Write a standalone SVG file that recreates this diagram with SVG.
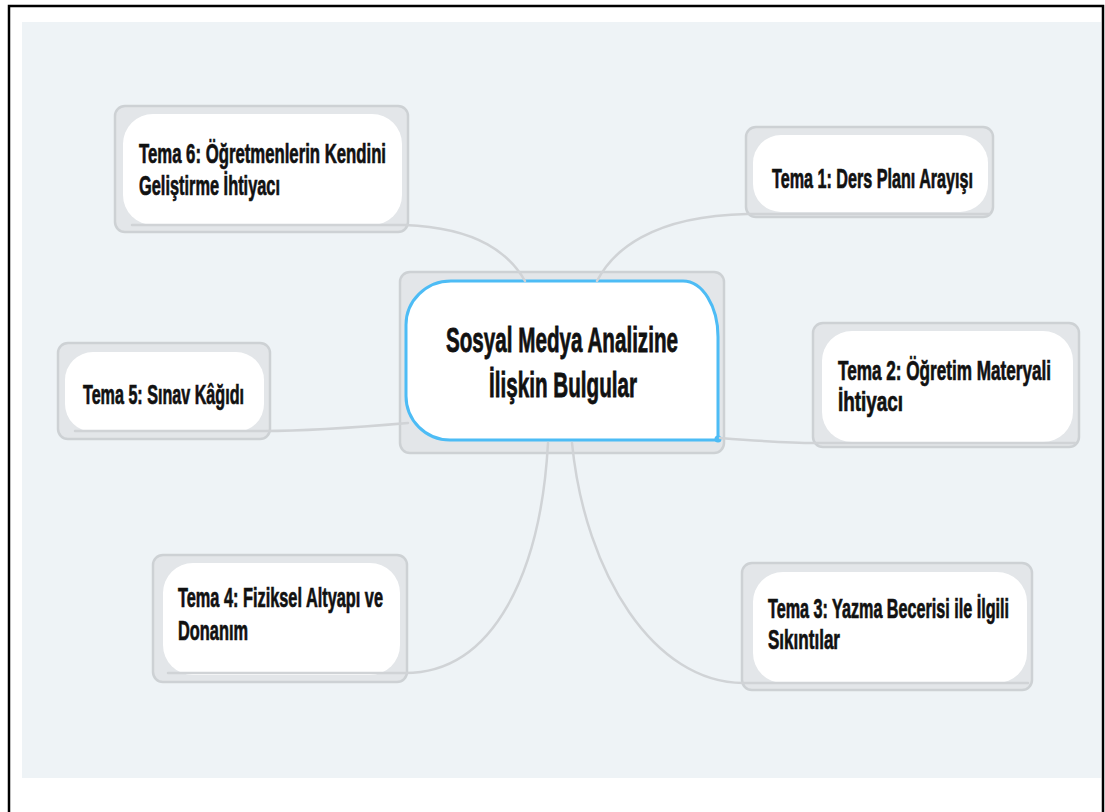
<svg xmlns="http://www.w3.org/2000/svg" width="1105" height="812" viewBox="0 0 1105 812">
<style>
.outer{fill:#e3e6e9;stroke:#cdd1d4;stroke-width:2.5}
.inner{fill:#ffffff}
.conn{fill:none;stroke:#d0d3d6;stroke-width:2.5;stroke-linecap:round}
.t{font-family:"Liberation Sans",Arial,sans-serif;font-weight:bold;font-size:27px;fill:#111111;stroke:#111111;stroke-width:0.7}
.c{font-family:"Liberation Sans",Arial,sans-serif;font-weight:bold;font-size:35px;fill:#111111;stroke:#111111;stroke-width:0.8}
</style>
<rect x="0" y="0" width="1105" height="812" fill="#ffffff"/>
<rect x="22" y="22" width="1079" height="756" fill="#eef3f6"/>
<rect x="9" y="6" width="1094" height="820" fill="none" stroke="#000000" stroke-width="2.5"/>

<g id="node-center">
<rect class="outer" x="400" y="272" width="324" height="181" rx="10"/>
<path d="M 451 281 L 683 281 A 35 56 0 0 1 718 337 L 718 440 L 450 440 A 44 44 0 0 1 406 396 L 406 325 A 45 44 0 0 1 451 281 Z" fill="#ffffff" stroke="#4dbcf5" stroke-width="3"/>
<circle cx="718" cy="439" r="3.5" fill="#4dbcf5"/>
<text class="c" transform="translate(446 352) scale(0.55 1)" textLength="421.8" lengthAdjust="spacingAndGlyphs">Sosyal Medya Analizine</text>
<text class="c" transform="translate(489 397) scale(0.55 1)" textLength="269.1" lengthAdjust="spacingAndGlyphs">İlişkin Bulgular</text>
</g>

<g id="node-tema6">
<rect class="outer" x="115" y="106" width="293" height="126" rx="10"/>
<rect class="inner" x="123" y="114" width="279" height="111" rx="30"/>
<text class="t" transform="translate(139 163) scale(0.6 1)" textLength="411.7" lengthAdjust="spacingAndGlyphs">Tema 6: Öğretmenlerin Kendini</text>
<text class="t" transform="translate(139 195) scale(0.6 1)" textLength="235" lengthAdjust="spacingAndGlyphs">Geliştirme İhtiyacı</text>
</g>

<g id="node-tema1">
<rect class="outer" x="746" y="127" width="247" height="90" rx="10"/>
<rect class="inner" x="753" y="135" width="235" height="77" rx="28"/>
<text class="t" transform="translate(772 188) scale(0.6 1)" textLength="335" lengthAdjust="spacingAndGlyphs">Tema 1: Ders Planı Arayışı</text>
</g>

<g id="node-tema2">
<rect class="outer" x="813" y="323" width="266" height="124" rx="10"/>
<rect class="inner" x="822" y="331" width="251" height="111" rx="30"/>
<text class="t" transform="translate(838 380) scale(0.6 1)" textLength="355" lengthAdjust="spacingAndGlyphs">Tema 2: Öğretim Materyali</text>
<text class="t" transform="translate(838 411) scale(0.6 1)" textLength="108.3" lengthAdjust="spacingAndGlyphs">İhtiyacı</text>
</g>

<g id="node-tema5">
<rect class="outer" x="58" y="343" width="212" height="96" rx="10"/>
<rect class="inner" x="65" y="352" width="199" height="80" rx="28"/>
<text class="t" transform="translate(83 404) scale(0.6 1)" textLength="268.3" lengthAdjust="spacingAndGlyphs">Tema 5: Sınav Kâğıdı</text>
</g>

<g id="node-tema4">
<rect class="outer" x="153" y="555" width="254" height="127" rx="10"/>
<rect class="inner" x="163" y="563" width="237" height="112" rx="30"/>
<text class="t" transform="translate(178 607) scale(0.6 1)" textLength="341.7" lengthAdjust="spacingAndGlyphs">Tema 4: Fiziksel Altyapı ve</text>
<text class="t" transform="translate(178 640) scale(0.6 1)" textLength="116.7" lengthAdjust="spacingAndGlyphs">Donanım</text>
</g>

<g id="node-tema3">
<rect class="outer" x="742" y="563" width="290" height="127" rx="10"/>
<rect class="inner" x="753" y="572" width="274" height="111" rx="30"/>
<text class="t" transform="translate(768 618) scale(0.6 1)" textLength="401.7" lengthAdjust="spacingAndGlyphs">Tema 3: Yazma Becerisi ile İlgili</text>
<text class="t" transform="translate(768 649) scale(0.6 1)" textLength="120" lengthAdjust="spacingAndGlyphs">Sıkıntılar</text>
</g>

<g id="connectors">
<path class="conn" d="M 525 281 C 510 255, 480 228, 405 225 L 132 225"/>
<path class="conn" d="M 597 281 C 612 252, 650 216, 747 214 L 990 214"/>
<path class="conn" d="M 408 423 C 350 428, 300 431, 264 431 L 75 431"/>
<path class="conn" d="M 720 438 C 760 441, 790 443, 815 443 L 1075 443"/>
<path class="conn" d="M 548 443 C 541 570, 495 673, 405 673 L 168 673"/>
<path class="conn" d="M 572 443 C 585 575, 655 683, 743 683 L 1028 683"/>
</g>
</svg>
